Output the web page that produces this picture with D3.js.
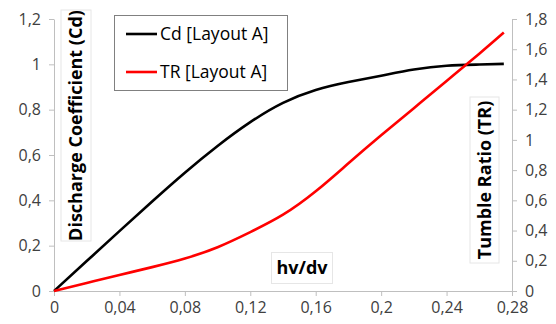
<!DOCTYPE html>
<html>
<head>
<meta charset="utf-8">
<script src="https://cdn.jsdelivr.net/npm/d3@7"></script>
<style>
  html, body { margin: 0; padding: 0; background: #fff; }
  svg { display: block; }
  text { font-family: "Open Sans", "Liberation Sans", sans-serif; }
</style>
</head>
<body>
<svg id="chart" width="556" height="324"></svg>
<script>
// Valve lift ratio (hv/dv)
const hv = [0, 0.02, 0.04, 0.06, 0.08, 0.10, 0.12, 0.14, 0.16, 0.18, 0.20, 0.22, 0.24, 0.26, 0.275];
// Discharge coefficient, left axis
const cd = [0, 0.132, 0.264, 0.395, 0.522, 0.64, 0.745, 0.83, 0.887, 0.922, 0.95, 0.977, 0.994, 0.999, 1.002];
// Tumble ratio, right axis
const tr = [0, 0.053, 0.106, 0.158, 0.215, 0.29, 0.39, 0.505, 0.66, 0.845, 1.03, 1.21, 1.39, 1.57, 1.71];

const xTicks = [0, 0.04, 0.08, 0.12, 0.16, 0.2, 0.24, 0.28];
const yLeftTicks = [0, 0.2, 0.4, 0.6, 0.8, 1, 1.2];
const yRightTicks = [0, 0.2, 0.4, 0.6, 0.8, 1, 1.2, 1.4, 1.6, 1.8];

const seriesNames = ["Cd [Layout A]", "TR [Layout A]"];
const seriesColors = ["#000000", "#ff0000"];

const svg = d3.select("#chart");
const plotLeft = 54, plotRight = 512, plotTop = 19, plotBottom = 291;

const x = d3.scaleLinear().domain([0, 0.28]).range([plotLeft, plotRight]);
const yL = d3.scaleLinear().domain([0, 1.2]).range([plotBottom, plotTop]);
const yR = d3.scaleLinear().domain([0, 1.8]).range([plotBottom, plotTop]);

const fmt = d => String(+d.toFixed(2)).replace(".", ",");
const axisColor = "#bfbfbf";
const tickColor = "#404040";

function styleAxis(g) {
  g.selectAll("path.domain").attr("stroke", axisColor).attr("stroke-width", 1);
  g.selectAll(".tick line").attr("stroke", axisColor).attr("stroke-width", 1);
  g.selectAll(".tick text").attr("fill", tickColor)
    .style("font-size", "16px").style("font-family", "'Open Sans', sans-serif");
}

svg.append("g").attr("transform", `translate(0,${plotBottom})`)
  .call(d3.axisBottom(x).tickValues(xTicks).tickFormat(fmt).tickSize(5).tickSizeOuter(0).tickPadding(6))
  .call(styleAxis);

svg.append("g").attr("transform", `translate(${plotLeft},0)`)
  .call(d3.axisLeft(yL).tickValues(yLeftTicks).tickFormat(fmt).tickSize(5).tickSizeOuter(0).tickPadding(8))
  .call(styleAxis);

svg.append("g").attr("transform", `translate(${plotRight},0)`)
  .call(d3.axisRight(yR).tickValues(yRightTicks).tickFormat(fmt).tickSize(5).tickSizeOuter(0).tickPadding(8))
  .call(styleAxis);

// Axis title boxes
function titleBox(cx, cy, w, h, label, rotate) {
  const g = svg.append("g").attr("transform", `translate(${cx},${cy})`);
  g.append("rect").attr("x", -w / 2).attr("y", -h / 2).attr("width", w).attr("height", h)
    .attr("fill", "#fff").attr("stroke", "#e6e6e6").attr("stroke-width", 1);
  g.append("text")
    .attr("transform", rotate ? "rotate(-90)" : null)
    .attr("text-anchor", "middle").attr("dy", "0.36em")
    .attr("font-weight", "bold").attr("fill", "#000")
    .style("font-size", "18px")
    .text(label);
}
titleBox(76, 125.5, 30, 231, "Discharge Coefficient (Cd)", true);
titleBox(484.5, 180, 29, 166, "Tumble Ratio (TR)", true);
titleBox(302, 268, 61, 31, "hv/dv", false);

// Curves: smooth cubic splines through the measured points
const lineCd = d3.line().x((d, i) => x(hv[i])).y(d => yL(d)).curve(d3.curveNatural);
const lineTr = d3.line().x((d, i) => x(hv[i])).y(d => yR(d)).curve(d3.curveNatural);

svg.append("path").attr("d", lineCd(cd)).attr("fill", "none")
  .attr("stroke", seriesColors[0]).attr("stroke-width", 2.6).attr("stroke-linejoin", "round");
svg.append("path").attr("d", lineTr(tr)).attr("fill", "none")
  .attr("stroke", seriesColors[1]).attr("stroke-width", 2.6).attr("stroke-linejoin", "round");

// Legend
const legend = svg.append("g");
legend.append("rect").attr("x", 114.5).attr("y", 15.5).attr("width", 173).attr("height", 75)
  .attr("fill", "#fff").attr("stroke", "#808080").attr("stroke-width", 1);
seriesNames.forEach((name, i) => {
  const yy = 34 + i * 38;
  legend.append("line").attr("x1", 126).attr("x2", 157).attr("y1", yy).attr("y2", yy)
    .attr("stroke", seriesColors[i]).attr("stroke-width", 2.6);
  legend.append("text").attr("x", 160).attr("y", yy).attr("dy", "0.36em")
    .attr("fill", "#000").style("font-size", "17.5px").text(name);
});
</script>
</body>
</html>
